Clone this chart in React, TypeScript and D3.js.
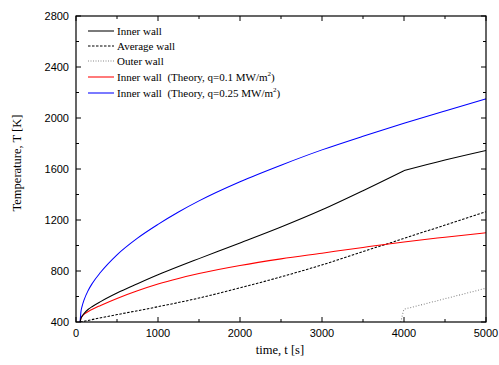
import React from "react";
import * as d3 from "d3";

const tInner = [50, 60, 75, 100, 150, 200, 300, 500, 750, 1000, 1250, 1500, 2000, 2500, 3000, 3500, 4000];
const innerWall = [400, 428, 446, 468, 500, 522, 560, 627, 700, 770, 835, 897, 1020, 1145, 1280, 1430, 1587];
const tInnerLate = [4000, 4500, 5000];
const innerWallLate = [1587, 1670, 1745];

const tAvg = [50, 500, 1000, 1500, 2000, 2500, 3000, 3500, 4000, 4500, 5000];
const averageWall = [400, 458, 520, 588, 668, 754, 848, 952, 1056, 1160, 1265];

const tOuter = [3960, 3990, 4000, 5000];
const outerWall = [400, 480, 500, 665];

const tTheory = [50, 60, 75, 100, 150, 200, 300, 500, 750, 1000, 1250, 1500, 2000, 2500, 3000, 3500, 4000, 4500, 5000];
const theory01 = [400, 425, 445, 462, 482, 500, 530, 585, 645, 698, 742, 780, 843, 895, 940, 985, 1028, 1065, 1100];
const theory025 = [400, 479, 524, 576, 649, 704, 790, 927, 1058, 1166, 1263, 1350, 1500, 1630, 1750, 1857, 1958, 2055, 2150];

const xTicks = [0, 1000, 2000, 3000, 4000, 5000];
const yTicks = [400, 800, 1200, 1600, 2000, 2400, 2800];

const W = 499, H = 365;
const L = 76, R = 486, T = 16, B = 322;

export default function App() {
  const x = d3.scaleLinear().domain([0, 5000]).range([L, R]);
  const y = d3.scaleLinear().domain([400, 2800]).range([B, T]);
  const line = (ts: number[], vs: number[], curve: d3.CurveFactory = d3.curveMonotoneX) =>
    d3.line<number>().x((_, i) => x(ts[i])).y((v) => y(v)).curve(curve)(vs) || "";

  const xMinor = d3.range(0, 5001, 500);
  const yMinor = d3.range(400, 2801, 200);

  const legend = [
    { label: "Inner wall", color: "#000", dash: undefined as string | undefined, sup: false },
    { label: "Average wall", color: "#000", dash: "2.5,1.5", sup: false },
    { label: "Outer wall", color: "#888", dash: "1,1.5", sup: false },
    { label: "Inner wall  (Theory, q=0.1 MW/m", color: "#ff0000", dash: undefined, sup: true },
    { label: "Inner wall  (Theory, q=0.25 MW/m", color: "#0000ff", dash: undefined, sup: true },
  ];
  const legY = [31, 46, 61, 77, 93];

  return (
    <svg width={W} height={H} style={{ position: "absolute", left: 0, top: 0, background: "#fff" }}>
      <defs>
        <clipPath id="clip">
          <rect x={L} y={T} width={R - L} height={B - T} />
        </clipPath>
      </defs>
      <rect x={0} y={0} width={W} height={H} fill="#fff" />
      <g clipPath="url(#clip)" fill="none" strokeWidth={1.05}>
        <path d={line(tAvg, averageWall)} stroke="#000" strokeDasharray="2.5,1.5" />
        <path d={line(tOuter, outerWall, d3.curveLinear)} stroke="#888" strokeDasharray="1,1.8" />
        <path d={line(tTheory, theory01)} stroke="#ff0000" />
        <path d={line(tTheory, theory025)} stroke="#0000ff" />
        <path d={line(tInner, innerWall) + line(tInnerLate, innerWallLate)} stroke="#000" />
      </g>
      <rect x={L} y={T} width={R - L} height={B - T} fill="none" stroke="#000" strokeWidth={1.2} />
      <g stroke="#000" strokeWidth={1}>
        {xMinor.map((v) => {
          const len = v % 1000 === 0 ? 5 : 3;
          return (
            <g key={"x" + v}>
              <line x1={x(v)} x2={x(v)} y1={B} y2={B - len} />
              <line x1={x(v)} x2={x(v)} y1={T} y2={T + len} />
            </g>
          );
        })}
        {yMinor.map((v) => {
          const len = v % 400 === 0 ? 5 : 3;
          return (
            <g key={"y" + v}>
              <line x1={L} x2={L + len} y1={y(v)} y2={y(v)} />
              <line x1={R} x2={R - len} y1={y(v)} y2={y(v)} />
            </g>
          );
        })}
      </g>
      <g fontFamily="'Liberation Sans', Arial, sans-serif" fontSize={11} fill="#000">
        {xTicks.map((v) => (
          <text key={v} x={x(v)} y={337} textAnchor="middle">{v}</text>
        ))}
        {yTicks.map((v) => (
          <text key={v} x={69} y={y(v) + 4} textAnchor="end">{v}</text>
        ))}
      </g>
      <g fontFamily="'Liberation Serif', 'Times New Roman', serif" fill="#000">
        <text x={280} y={354} textAnchor="middle" fontSize={12.5}>time, t [s]</text>
        <text transform={`translate(21, 163) rotate(-90)`} textAnchor="middle" fontSize={12.5}>
          Temperature, T [K]
        </text>
        {legend.map((d, i) => (
          <g key={i}>
            <line x1={88} x2={114} y1={legY[i]} y2={legY[i]} stroke={d.color} strokeWidth={1.05} strokeDasharray={d.dash} />
            <text x={117} y={legY[i] + 3.5} fontSize={11} style={{ whiteSpace: "pre" }}>
              {d.label}
              {d.sup && (
                <>
                  <tspan fontSize={7} dy={-4.5}>2</tspan>
                  <tspan dy={4.5}>)</tspan>
                </>
              )}
            </text>
          </g>
        ))}
      </g>
    </svg>
  );
}
